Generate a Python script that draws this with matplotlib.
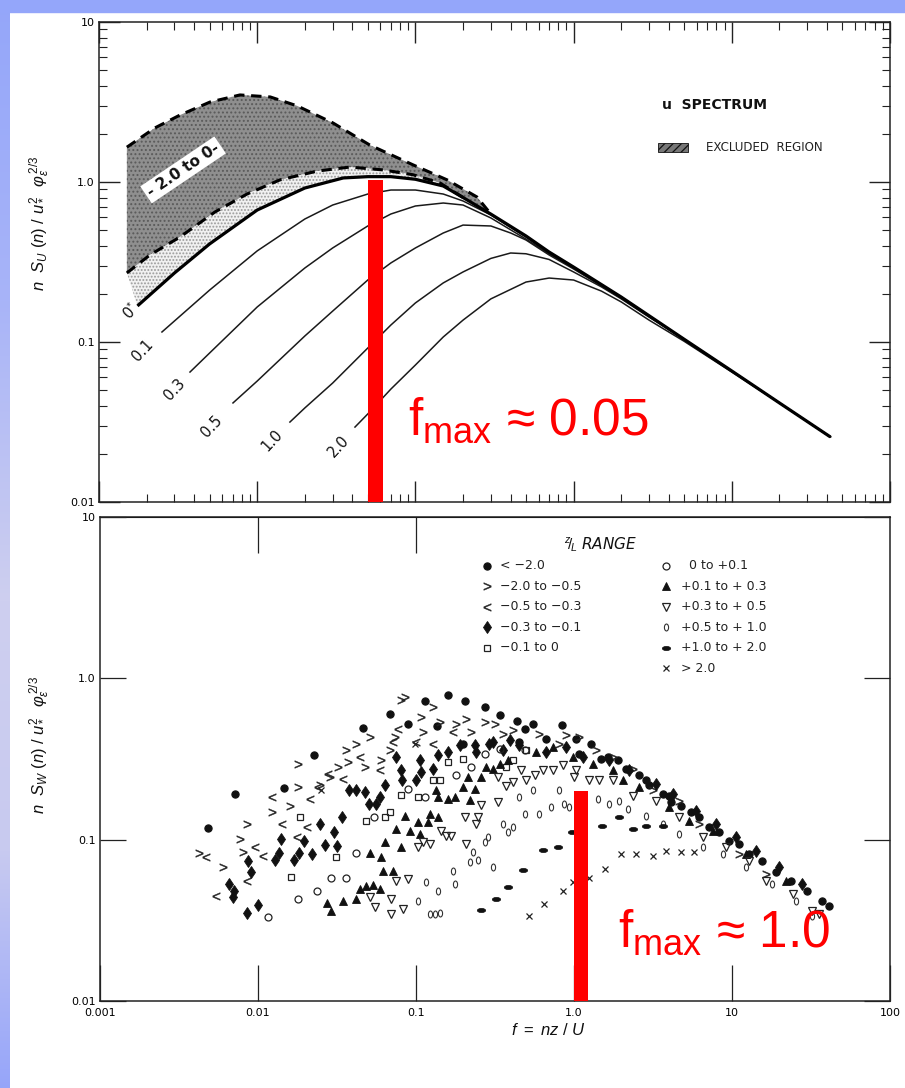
import numpy as np
import matplotlib.pyplot as plt
from matplotlib.patches import Polygon, Rectangle
from matplotlib.path import Path
from matplotlib.transforms import Affine2D
from matplotlib.ticker import LogLocator, NullFormatter, NullLocator

plt.rcParams['font.family'] = ['DejaVu Sans']
plt.rcParams['mathtext.fontset'] = 'custom'
plt.rcParams['mathtext.rm'] = 'Liberation Sans'
plt.rcParams['mathtext.it'] = 'Liberation Sans:italic'
plt.rcParams['mathtext.bf'] = 'Liberation Sans:bold'
plt.rcParams['hatch.linewidth'] = 0.9

# ---------------- u spectrum: curves for each z/L ----------------
f_n = [0.00175, 0.003, 0.005, 0.01, 0.02, 0.035, 0.05, 0.07, 0.1, 0.15, 0.2, 0.3,
       0.5, 0.7, 1.0, 2.0, 5.0, 10.0, 20.0, 42.0]
s_n = [0.168, 0.270, 0.410, 0.668, 0.917, 1.06, 1.08, 1.08, 1.04, 0.944, 0.80, 0.63,
       0.460, 0.365, 0.294, 0.191, 0.104, 0.0659, 0.0416, 0.0255]

f_01 = [0.0025, 0.005, 0.01, 0.02, 0.03, 0.05, 0.07, 0.1, 0.15, 0.2, 0.3, 0.5, 0.7,
        1.0, 2.0, 5.0, 10.0, 20.0, 42.0]
s_01 = [0.1155, 0.211, 0.371, 0.587, 0.718, 0.841, 0.891, 0.891, 0.841, 0.761, 0.622,
        0.453, 0.360, 0.294, 0.191, 0.104, 0.0659, 0.0416, 0.0255]

f_03 = [0.00376, 0.005, 0.01, 0.02, 0.03, 0.05, 0.07, 0.1, 0.15, 0.2, 0.3, 0.5, 0.7,
        1.0, 2.0, 5.0, 10.0, 20.0, 42.0]
s_03 = [0.0649, 0.0853, 0.1655, 0.290, 0.387, 0.531, 0.631, 0.708, 0.739, 0.718, 0.596,
        0.440, 0.355, 0.292, 0.191, 0.104, 0.0659, 0.0416, 0.0255]

f_05 = [0.00703, 0.01, 0.02, 0.03, 0.05, 0.07, 0.1, 0.15, 0.2, 0.3, 0.4, 0.5, 0.7, 1.0,
        1.5, 2.0, 5.0, 10.0, 20.0, 42.0]
s_05 = [0.0416, 0.0570, 0.109, 0.156, 0.244, 0.312, 0.387, 0.480, 0.538, 0.531, 0.480,
        0.434, 0.350, 0.286, 0.224, 0.188, 0.104, 0.0659, 0.0416, 0.0255]

f_10 = [0.0161, 0.02, 0.03, 0.05, 0.07, 0.1, 0.15, 0.2, 0.3, 0.4, 0.5, 0.7, 1.0, 1.5,
        2.0, 3.0, 5.0, 10.0, 20.0, 42.0]
s_10 = [0.0316, 0.0387, 0.0554, 0.0917, 0.1277, 0.1754, 0.234, 0.274, 0.333, 0.360,
        0.356, 0.328, 0.274, 0.221, 0.186, 0.143, 0.104, 0.0659, 0.0416, 0.0255]

f_20 = [0.0415, 0.05, 0.07, 0.1, 0.15, 0.2, 0.3, 0.5, 0.7, 1.0, 1.5, 2.0, 3.0, 5.0,
        10.0, 20.0, 42.0]
s_20 = [0.0294, 0.0355, 0.0508, 0.0718, 0.1075, 0.137, 0.186, 0.237, 0.251, 0.244,
        0.208, 0.178, 0.137, 0.101, 0.0649, 0.0416, 0.0255]

# bounds of the unstable (-2.0 to 0) band
f_hi = [0.0015, 0.00226, 0.00325, 0.00503, 0.00778, 0.0121, 0.0179, 0.0301, 0.0516,
        0.0966, 0.159, 0.245, 0.3]
s_hi = [1.65, 2.18, 2.62, 3.16, 3.50, 3.40, 2.99, 2.34, 1.70, 1.28, 1.03, 0.806, 0.63]
f_lo = [0.0015, 0.0021, 0.00325, 0.0054, 0.00862, 0.0139, 0.0239, 0.0386, 0.0624,
        0.0966, 0.143, 0.2]
s_lo = [0.270, 0.350, 0.453, 0.649, 0.841, 1.03, 1.17, 1.24, 1.19, 1.11, 0.986, 0.80]

curve_labels = [r'0$^{*}$', '0.1', '0.3', '0.5', '1.0', '2.0']
label_f = [0.00157, 0.0019, 0.00302, 0.00515, 0.01246, 0.0329]
label_s = [0.156, 0.088, 0.0506, 0.0296, 0.0244, 0.0222]

# ---------------- w spectrum: scattered points (log10 f, log10 S) ----------------
zl_ranges = ['< \u22122.0', '\u22122.0 to \u22120.5', '\u22120.5 to \u22120.3',
             '\u22120.3 to \u22120.1', '\u22120.1 to 0',
             '  0 to +0.1', '+0.1 to + 0.3', '+0.3 to + 0.5', '+0.5 to + 1.0',
             '+1.0 to + 2.0', '> 2.0']

lf_1 = [-2.315, -2.146, -1.837, -1.645, -1.335, -1.166, -1.051, -0.941, -0.865, -0.798,
        -0.688, -0.566, -0.471, -0.362, -0.313, -0.261, -0.075, 0.013, 0.108, 0.213,
        0.277, 0.329, 0.413, 0.477, 0.561, 0.614, 0.677, 0.740, 0.793, 0.856, 0.919,
        0.982, 1.046, 1.109, 1.193, 1.277, 1.372, 1.477, 1.572, 1.614, -0.703, -0.345,
        -0.176, 0.034, 0.171, 0.456, 0.603]
ls_1 = [-0.929, -0.716, -0.679, -0.474, -0.308, -0.219, -0.281, -0.141, -0.298, -0.101,
        -0.143, -0.178, -0.225, -0.265, -0.312, -0.281, -0.288, -0.375, -0.406, -0.489,
        -0.509, -0.561, -0.602, -0.664, -0.716, -0.768, -0.789, -0.830, -0.861, -0.923,
        -0.954, -1.006, -1.027, -1.089, -1.130, -1.203, -1.254, -1.317, -1.379, -1.410,
        -0.406, -0.395, -0.375, -0.468, -0.499, -0.633, -0.727]

lf_2 = [-2.374, -2.220, -2.115, -2.094, -2.072, -1.914, -1.799, -1.746, -1.746, -1.609,
        -1.546, -1.493, -1.440, -1.430, -1.377, -1.325, -1.293, -1.219, -1.166, -1.135,
        -1.093, -1.072, -0.966, -0.956, -0.893, -0.850, -0.745, -0.682, -0.650, -0.566,
        -0.503, -0.450, -0.387, -0.219, -0.092, -0.050, 0.034, 0.140, 0.245, 0.371,
        0.498, 0.666, 0.793, 1.046, 1.214]
ls_2 = [-1.084, -1.167, -0.995, -1.078, -0.902, -0.830, -0.793, -0.534, -0.675, -0.664,
        -0.613, -0.550, -0.447, -0.519, -0.406, -0.550, -0.364, -0.509, -0.447, -0.364,
        -0.136, -0.116, -0.240, -0.333, -0.178, -0.271, -0.281, -0.250, -0.333, -0.271,
        -0.281, -0.343, -0.323, -0.344, -0.406, -0.354, -0.364, -0.447, -0.489, -0.561,
        -0.695, -0.758, -0.903, -1.089, -1.213]

lf_3 = [-2.330, -2.266, -2.072, -2.016, -1.971, -1.914, -1.845, -1.756, -1.693, -1.672,
        -1.620, -1.556, -1.461, -1.356, -1.230, -1.145, -1.114, -0.998, -0.893, -0.766]
ls_3 = [-1.109, -1.347, -1.254, -1.047, -1.099, -0.737, -0.902, -0.985, -0.923, -0.747,
        -0.675, -0.592, -0.623, -0.488, -0.571, -0.395, -0.312, -0.395, -0.406, -0.333]

lf_4 = [-2.184, -2.153, -2.161, -2.068, -2.062, -2.047, -1.999, -1.893, -1.866, -1.855,
        -1.773, -1.740, -1.712, -1.657, -1.605, -1.577, -1.520, -1.497, -1.468, -1.424,
        -1.377, -1.325, -1.297, -1.251, -1.230, -1.198, -1.124, -1.093, -1.086, -0.998,
        -0.977, -0.966, -0.893, -0.861, -0.798, -0.724, -0.629, -0.513, -0.408, -0.619,
        -0.535, -0.450, -0.345, -0.176, -0.050, 0.055, 0.224, 0.350, 0.519, 0.624, 0.772,
        0.898, 1.025, 1.151, 1.298, 1.446]
ls_4 = [-1.275, -1.316, -1.358, -1.455, -1.130, -1.198, -1.405, -1.126, -1.084, -0.995,
        -1.126, -1.084, -1.006, -1.089, -0.902, -1.033, -0.954, -1.037, -0.861, -0.695,
        -0.695, -0.706, -0.782, -0.782, -0.733, -0.660, -0.488, -0.571, -0.633, -0.633,
        -0.509, -0.581, -0.561, -0.478, -0.457, -0.416, -0.416, -0.395, -0.385, -0.457,
        -0.406, -0.447, -0.416, -0.457, -0.426, -0.489, -0.509, -0.571, -0.654, -0.716,
        -0.820, -0.903, -0.985, -1.068, -1.172, -1.275]

lf_5 = [-1.788, -1.735, -1.504, -1.318, -1.198, -1.166, -1.093, -0.987, -0.893, -0.850,
        -0.798, -0.703, -0.429, -0.387, -0.303]
ls_5 = [-1.229, -0.861, -1.109, -0.882, -0.857, -0.830, -0.726, -0.737, -0.633, -0.633,
        -0.519, -0.499, -0.551, -0.509, -0.447]

lf_6 = [-1.936, -1.746, -1.626, -1.535, -1.440, -1.381, -1.268, -1.051, -0.945, -0.745,
        -0.650, -0.566, -0.471, -0.313]
ls_6 = [-1.478, -1.368, -1.316, -1.238, -1.238, -1.082, -0.861, -0.685, -0.733, -0.602,
        -0.550, -0.468, -0.437, -0.447]

lf_7 = [-1.563, -1.535, -1.461, -1.377, -1.356, -1.318, -1.272, -1.230, -1.293, -1.219,
        -1.198, -1.209, -1.145, -1.124, -1.093, -1.072, -1.040, -0.987, -0.977, -0.924,
        -0.914, -0.861, -0.872, -0.861, -0.798, -0.756, -0.703, -0.671, -0.629, -0.587,
        -0.661, -0.555, -0.513, -0.471, -0.418, -0.240, -0.134, -0.008, 0.118, 0.245,
        0.308, 0.413, 0.603, 0.730, 0.877, 1.088, 1.341]
ls_7 = [-1.393, -1.445, -1.378, -1.368, -1.306, -1.285, -1.279, -1.306, -1.082, -1.109,
        -1.016, -1.192, -1.192, -0.933, -1.047, -0.851, -0.944, -0.892, -0.964, -0.892,
        -0.840, -0.861, -0.695, -0.737, -0.747, -0.737, -0.675, -0.613, -0.685, -0.613,
        -0.757, -0.550, -0.561, -0.530, -0.509, -0.457, -0.426, -0.489, -0.530, -0.571,
        -0.633, -0.675, -0.799, -0.882, -0.944, -1.089, -1.254]

lf_8 = [-1.293, -1.261, -1.156, -1.156, -1.124, -1.051, -1.082, -0.987, -0.956, -0.914,
        -0.840, -0.808, -0.777, -0.692, -0.682, -0.619, -0.608, -0.587, -0.482, -0.482,
        -0.429, -0.387, -0.334, -0.303, -0.250, -0.198, -0.134, -0.071, 0.003, 0.013,
        0.097, 0.161, 0.245, 0.371, 0.519, 0.666, 0.814, 0.961, 1.109, 1.214, 1.383,
        1.509, 1.551]
ls_8 = [-1.358, -1.420, -1.461, -1.368, -1.254, -1.244, -1.430, -1.047, -1.016, -1.027,
        -0.944, -0.975, -0.975, -0.861, -1.027, -0.902, -0.861, -0.788, -0.768, -0.613,
        -0.670, -0.644, -0.571, -0.633, -0.602, -0.571, -0.571, -0.540, -0.613, -0.571,
        -0.633, -0.633, -0.633, -0.727, -0.758, -0.861, -0.985, -1.047, -1.130, -1.254,
        -1.337, -1.441, -1.461]

lf_9 = [-0.987, -0.935, -0.861, -0.766, -0.756, -0.661, -0.640, -0.608, -0.513, -0.562,
        -0.545, -0.450, -0.418, -0.387, -0.345, -0.313, -0.914, -0.882, -0.850, -0.261,
        -0.219, -0.145, -0.092, -0.061, -0.033, 0.150, 0.224, 0.287, 0.340, 0.456, 0.561,
        0.666, 0.814, 0.940, 1.088, 1.256, 1.404, 1.509]
ls_9 = [-1.378, -1.265, -1.316, -1.192, -1.275, -1.136, -1.078, -1.126, -1.171, -1.012,
        -0.985, -0.902, -0.954, -0.923, -0.737, -0.840, -1.461, -1.461, -1.457, -0.695,
        -0.840, -0.799, -0.695, -0.778, -0.799, -0.747, -0.778, -0.758, -0.809, -0.851,
        -0.903, -0.965, -1.047, -1.089, -1.172, -1.275, -1.379, -1.472]

lf_10 = [-0.587, -0.492, -0.418, -0.324, -0.198, -0.103, -0.012, 0.177, 0.283, 0.371,
         0.456, 0.565]
ls_10 = [-1.436, -1.368, -1.296, -1.186, -1.064, -1.047, -0.954, -0.913, -0.861, -0.934,
         -0.917, -0.917]

lf_11 = [-0.282, -0.187, -0.071, -0.008, 0.097, 0.199, 0.298, 0.392, 0.498, 0.582, 0.677,
         0.761, -1.600, -1.009]
ls_11 = [-1.472, -1.399, -1.317, -1.265, -1.238, -1.184, -1.089, -1.089, -1.099, -1.068,
         -1.078, -1.078, -0.690, -0.406]

# peak frequencies marked in red
fmax_u, fmax_w = 0.05, 1.0
bar_top_u, bar_top_w = 1.03, 0.2

# ---------------- marker shapes ----------------
circ = Path.unit_circle()
oval_v = circ.transformed(Affine2D().scale(0.6, 1.0))
oval_h = circ.transformed(Affine2D().scale(1.0, 0.5))
K = '#111111'
styles = [
    dict(marker='o', ms=5.2, mfc=K, mec=K, mew=0.8),
    dict(marker=r'$>$', ms=5.5, mfc='#222222', mec='#222222', mew=0.3),
    dict(marker=r'$<$', ms=5.5, mfc='#222222', mec='#222222', mew=0.3),
    dict(marker='d', ms=6.5, mfc=K, mec=K, mew=0.6),
    dict(marker='s', ms=4.6, mfc='none', mec='#222222', mew=0.9),
    dict(marker='o', ms=5.0, mfc='none', mec='#222222', mew=0.9),
    dict(marker='^', ms=5.6, mfc=K, mec=K, mew=0.6),
    dict(marker='v', ms=5.6, mfc='none', mec='#222222', mew=0.9),
    dict(marker=oval_v, ms=5.0, mfc='none', mec='#333333', mew=0.8),
    dict(marker=oval_h, ms=6.0, mfc=K, mec=K, mew=0.5),
    dict(marker='x', ms=4.2, mfc=K, mec='#222222', mew=0.9),
]
lf_all = [lf_1, lf_2, lf_3, lf_4, lf_5, lf_6, lf_7, lf_8, lf_9, lf_10, lf_11]
ls_all = [ls_1, ls_2, ls_3, ls_4, ls_5, ls_6, ls_7, ls_8, ls_9, ls_10, ls_11]

# ---------------- figure ----------------
W, H = 905, 1088
fig = plt.figure(figsize=(W / 100, H / 100), dpi=100)


def box(l, t, r, b):
    return [l / W, 1 - b / H, (r - l) / W, (b - t) / H]


# slide border
bg = fig.add_axes([0, 0, 1, 1], zorder=-5)
bg.set_axis_off()
stops_y = [0, 300, 600, 850, 1088]
stops_c = np.array([[148, 166, 250], [168, 180, 248], [206, 207, 239], [200, 202, 240],
                    [150, 165, 250]]) / 255
rows = np.arange(H)
col = np.stack([np.interp(rows, stops_y, stops_c[:, k]) for k in range(3)], axis=1)
bg.imshow(col[::-1, None, :], extent=[0, 10 / W, 0, 1], aspect='auto', origin='lower')
bg.add_patch(Rectangle((0, 1 - 12 / H), 1, 12 / H, color=(148 / 255, 166 / 255, 250 / 255)))
bg.set_xlim(0, 1)
bg.set_ylim(0, 1)

ax_u = fig.add_axes(box(99, 22, 890, 502))
ax_w = fig.add_axes(box(100, 517, 890, 1001))
for ax in (ax_u, ax_w):
    ax.set_xscale('log')
    ax.set_yscale('log')
    ax.set_xlim(1e-3, 1e2)
    ax.set_ylim(1e-2, 1e1)
    for sp in ax.spines.values():
        sp.set_linewidth(1.1)
        sp.set_color('#222222')

ytick_vals = [0.01, 0.1, 1, 10]
ytick_txt = ['0.01', '0.1', '1.0', '10']

# ---- top panel ----
ax_u.xaxis.set_major_locator(LogLocator(base=10, numticks=10))
ax_u.xaxis.set_minor_locator(LogLocator(base=10, subs=np.arange(2, 10), numticks=10))
ax_u.yaxis.set_minor_locator(LogLocator(base=10, subs=np.arange(2, 10), numticks=10))
ax_u.xaxis.set_minor_formatter(NullFormatter())
ax_u.yaxis.set_minor_formatter(NullFormatter())
ax_u.set_yticks(ytick_vals, ytick_txt)
ax_u.tick_params(which='major', direction='in', length=15, width=1.0, top=True,
                 right=True, labelbottom=False, labelsize=8, pad=3, color='#222222')
ax_u.tick_params(which='minor', direction='in', length=6, width=0.8, top=True,
                 right=True, color='#222222')

lower_env = np.array(f_n) <= 0.2
dark = np.column_stack([np.r_[f_hi, f_lo[::-1]], np.r_[s_hi, s_lo[::-1]]])
light = np.column_stack([np.r_[f_lo, np.array(f_n)[lower_env][::-1]],
                         np.r_[s_lo, np.array(s_n)[lower_env][::-1]]])
ax_u.add_patch(Polygon(dark, closed=True, facecolor='#8f8f8f', edgecolor='#5a5a5a',
                       hatch='....', lw=0, zorder=1))
ax_u.add_patch(Polygon(light, closed=True, facecolor='#f1f1f1', edgecolor='#9a9a9a',
                       hatch='.....', lw=0, zorder=1))

for fx, sx in ((f_01, s_01), (f_03, s_03), (f_05, s_05), (f_10, s_10), (f_20, s_20)):
    ax_u.plot(fx, sx, color='#1a1a1a', lw=1.1, zorder=3)
ax_u.plot(f_n, s_n, color='k', lw=2.3, zorder=4, solid_capstyle='butt')
ax_u.plot(f_hi, s_hi, color='k', lw=2.2, ls=(0, (3.4, 2.2)), zorder=5)
ax_u.plot(f_lo, s_lo, color='k', lw=2.2, ls=(0, (3.4, 2.2)), zorder=5)

for txt, fx, sx in zip(curve_labels, label_f, label_s):
    ax_u.text(fx, sx, txt, rotation=47, ha='center', va='center', fontsize=10.5,
              color='#111111', zorder=6)
ax_u.text(0.0034, 1.19, '- 2.0 to 0-', rotation=34, ha='center', va='center',
          fontsize=11, fontweight='bold', color='#111111', zorder=7,
          bbox=dict(facecolor='white', edgecolor='none', pad=2.0))

ax_u.text(0.712, 0.827, 'u  SPECTRUM', transform=ax_u.transAxes, fontsize=10,
          fontweight='bold', va='center', ha='left', color='#111111')
ax_u.add_patch(Rectangle((0.7067, 0.729), 0.0379, 0.019, transform=ax_u.transAxes,
                         facecolor='#777777', edgecolor='#111111', hatch='////', lw=0.6))
ax_u.text(0.767, 0.738, 'EXCLUDED  REGION', transform=ax_u.transAxes, fontsize=8.6,
          va='center', ha='left', color='#222222')

ax_u.add_patch(Rectangle((fmax_u, 0.01), fmax_u * 0.25, bar_top_u - 0.01,
                         color='#ff0000', zorder=10, lw=0))
ax_u.text(0.3906, 0.1396, r'$\mathrm{f}_{\mathrm{max}}$ ≈ 0.05', transform=ax_u.transAxes,
          fontsize=37, color='#ff0000', family='Liberation Sans', va='baseline',
          ha='left', zorder=11)

# ---- bottom panel ----
ax_w.set_xticks([0.001, 0.01, 0.1, 1, 10, 100], ['0.001', '0.01', '0.1', '1.0', '10', '100'])
ax_w.set_yticks(ytick_vals, ytick_txt)
ax_w.xaxis.set_minor_locator(NullLocator())
ax_w.yaxis.set_minor_locator(NullLocator())
ax_w.tick_params(axis='x', direction='in', length=26, width=0.9, labelsize=8, pad=5,
                 color='#222222')
ax_w.tick_params(axis='y', direction='in', length=19, width=0.9, right=True,
                 labelsize=8, pad=3, color='#222222')
sec = ax_w.secondary_xaxis('top')
sec.set_xticks([0.01, 0.1])
sec.xaxis.set_minor_locator(NullLocator())
sec.tick_params(direction='in', length=26, width=0.9, labeltop=False, color='#222222')

for lf, lsv, st in zip(lf_all, ls_all, styles):
    ax_w.plot(10 ** np.array(lf), 10 ** np.array(lsv), ls='none', zorder=3, **st)

# z/L legend
ax_w.text(0.633, 0.942, r'$^{z}\!/\!_{L}$ RANGE', transform=ax_w.transAxes, fontsize=11,
          fontstyle='italic', ha='center', va='center', color='#111111')
col_marker = [0.490, 0.716]
col_text = [0.506, 0.735]
for i, (lab, st) in enumerate(zip(zl_ranges, styles)):
    c = 0 if i < 5 else 1
    r = i if i < 5 else i - 5
    y = 0.899 - r * 0.0423
    ax_w.plot([col_marker[c]], [y], transform=ax_w.transAxes, ls='none', clip_on=False,
              **st)
    ax_w.text(col_text[c], y, lab, transform=ax_w.transAxes, fontsize=9, va='center',
              ha='left', color='#222222')

ax_w.add_patch(Rectangle((fmax_w, 0.01), fmax_w * 0.22, bar_top_w - 0.01,
                         color='#ff0000', zorder=10, lw=0))
ax_w.text(0.6557, 0.1116, r'$\mathrm{f}_{\mathrm{max}}$ ≈ 1.0', transform=ax_w.transAxes,
          fontsize=37, color='#ff0000', family='Liberation Sans', va='baseline',
          ha='left', zorder=11)

# axis titles
fig.text(0.044, 0.795, r'$n\ \ S_U\ (n)\ /\ u_*^2\ \ \varphi_\varepsilon^{\,2/3}$',
         rotation=90, ha='center', va='center', fontsize=12, color='#111111')
fig.text(0.044, 0.315, r'$n\ \ S_W\ (n)\ /\ u_*^2\ \ \varphi_\varepsilon^{\,2/3}$',
         rotation=90, ha='center', va='center', fontsize=12, color='#111111')
fig.text(0.6055, 0.0533, r'$f\ =\ nz\ /\ U$', ha='center', va='center', fontsize=12,
         color='#111111')

fig.savefig('out.png', dpi=100, facecolor='white')
